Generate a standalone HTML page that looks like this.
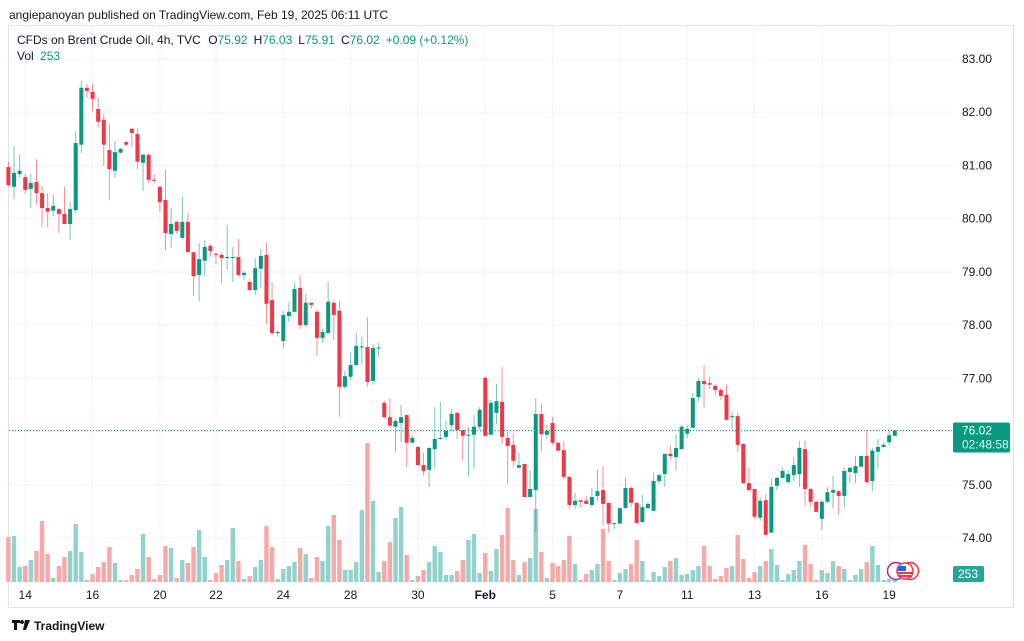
<!DOCTYPE html>
<html><head><meta charset="utf-8"><style>
body{margin:0;background:#fff;width:1024px;height:641px;overflow:hidden;font-family:"Liberation Sans",sans-serif}
svg{display:block}
text{font-family:"Liberation Sans",sans-serif}
</style></head><body>
<svg id="chart" width="1024" height="641" viewBox="0 0 1024 641" xmlns="http://www.w3.org/2000/svg">
<text x="9" y="19" font-size="12" fill="#131722">angiepanoyan published on TradingView.com, Feb 19, 2025 06:11 UTC</text>
<rect x="8.5" y="25.5" width="1005" height="582" fill="none" stroke="#e0e3eb"/>
<g id="grid"></g>
<g id="vol"></g>
<g id="candles"></g>
<g id="axes"></g>
<text x="17" y="44" font-size="12" fill="#131722">CFDs on Brent Crude Oil, 4h, TVC <tspan fill="#131722" dx="4">O</tspan><tspan fill="#089981">75.92</tspan><tspan dx="6">H</tspan><tspan fill="#089981">76.03</tspan><tspan dx="6">L</tspan><tspan fill="#089981">75.91</tspan><tspan dx="6">C</tspan><tspan fill="#089981">76.02</tspan><tspan dx="6" fill="#089981">+0.09 (+0.12%)</tspan></text>
<text x="17" y="60" font-size="12" fill="#131722">Vol <tspan fill="#089981" dx="3">253</tspan></text>
<g>
<circle cx="896" cy="571" r="8.5" fill="#fff" stroke="#9c27b0" stroke-width="1.5"/>
<circle cx="910" cy="571" r="8.5" fill="#fff" stroke="#f23645" stroke-width="1.5"/>
<circle cx="905" cy="571" r="8" fill="#fff" stroke="#f23645" stroke-width="1.5"/>
<rect x="898" y="566" width="8" height="5" fill="#2962ff"/>
<rect x="898" y="572" width="14" height="2" fill="#f23645"/>
<rect x="898" y="575" width="14" height="2" fill="#f23645"/>
</g>
<g>
<path d="M12 620h8v3h-3v7h-3v-7h-2z M22 624a2 2 0 1 1 0.01 0z M25 620h5l-4 10h-3z" fill="#131722"/>
<text x="34" y="630" font-size="12" font-weight="bold" fill="#131722">TradingView</text>
</g>
</svg>
<script>
const opens=[80.97,80.60,80.84,80.78,80.56,80.69,80.48,80.20,80.15,80.18,80.09,79.90,80.16,81.39,82.46,82.38,82.06,81.86,81.29,80.90,81.24,81.44,81.69,81.59,81.05,81.20,80.73,80.60,80.35,79.71,79.94,79.64,79.94,79.37,78.94,79.21,79.49,79.34,79.32,79.26,79.26,79.28,78.94,78.81,78.66,79.06,79.32,78.47,77.85,77.70,78.17,78.25,78.70,78.00,78.42,78.25,77.76,77.85,78.42,78.27,76.84,77.03,77.25,77.59,77.59,76.95,77.57,76.54,76.27,76.09,76.16,76.31,75.79,75.71,75.37,75.28,75.67,75.86,75.90,76.12,76.35,76.03,75.92,75.94,76.09,77.01,75.94,76.35,76.56,75.88,75.75,75.32,75.39,74.77,74.90,76.33,75.94,76.16,75.79,75.65,75.15,74.62,74.71,74.70,74.62,74.79,74.90,74.66,74.27,74.27,74.56,74.94,74.66,74.30,74.56,74.51,75.07,75.20,75.58,75.52,75.67,75.96,76.07,76.65,76.95,76.91,76.86,76.78,76.69,76.27,76.29,75.77,75.03,74.92,74.38,74.71,74.10,74.98,75.13,75.05,75.18,75.20,75.67,74.92,74.68,74.36,74.68,74.85,74.88,74.79,75.24,75.22,75.34,75.54,75.07,75.62,75.71,75.80,75.92];
const highs=[81.07,81.37,81.20,80.84,80.84,81.12,80.62,80.48,80.45,80.20,80.60,80.31,81.65,82.59,82.53,82.53,82.27,81.97,81.78,81.46,81.33,81.46,81.70,81.70,81.22,81.24,80.84,80.60,80.92,80.20,79.96,80.41,80.11,79.37,79.54,79.60,79.52,79.37,79.36,79.88,79.47,79.62,79.02,78.87,79.26,79.43,79.56,78.81,77.89,78.27,78.44,78.79,78.94,78.59,78.42,78.29,77.93,78.81,78.47,78.45,77.14,77.48,77.85,77.78,78.15,77.65,77.67,76.58,76.63,76.24,76.50,76.31,75.92,75.73,75.60,75.71,76.46,76.56,76.20,76.42,76.37,76.03,76.09,76.31,76.46,77.04,76.59,76.89,77.21,76.00,75.97,75.60,75.39,75.28,76.63,76.54,76.12,76.27,75.79,75.82,75.15,74.85,74.71,74.79,74.94,75.28,75.35,74.66,74.29,74.56,75.13,74.98,74.66,74.81,74.68,75.22,75.22,75.58,75.73,75.94,76.12,76.12,76.73,77.01,77.25,77.03,76.89,76.82,76.88,76.37,76.37,75.77,75.32,74.92,74.77,74.83,75.11,75.15,75.32,75.28,75.52,75.82,75.82,74.94,74.70,74.71,74.96,75.17,74.90,75.32,75.33,75.54,75.54,76.03,75.69,75.86,75.79,76.03,76.03];
const lows=[80.60,80.37,80.77,80.46,80.20,80.26,79.84,79.84,80.05,79.73,79.90,79.60,80.11,81.24,82.27,82.02,81.72,80.99,80.35,80.77,81.22,81.37,81.35,80.93,80.52,80.67,80.67,80.13,79.41,79.45,79.71,79.62,79.37,78.55,78.45,78.91,79.28,79.15,78.79,79.04,78.81,78.92,78.85,78.66,78.57,78.70,78.02,77.82,77.78,77.57,78.06,78.25,77.93,77.97,78.32,77.42,77.67,77.85,77.72,76.27,76.80,76.97,77.23,77.27,76.84,76.88,77.40,76.24,76.09,75.62,75.80,75.33,75.77,75.37,75.17,74.96,75.32,75.84,75.84,76.01,75.86,75.45,75.15,75.30,76.03,75.90,75.94,76.14,75.77,75.02,75.34,75.32,74.77,74.77,74.11,75.63,75.86,75.75,75.64,75.11,74.55,74.55,74.58,74.64,74.58,74.70,74.23,74.10,74.17,74.27,74.56,74.58,74.28,74.28,74.55,74.51,75.02,74.96,75.47,75.26,75.67,75.88,76.07,76.56,76.44,76.80,76.69,76.59,76.20,76.01,75.62,75.02,74.88,74.36,74.32,74.04,74.10,74.90,75.11,75.03,75.07,74.96,74.60,74.58,74.49,74.15,74.66,74.55,74.43,74.58,75.03,75.03,75.34,75.02,74.88,75.30,75.71,75.75,75.91];
const closes=[80.63,80.86,80.90,80.54,80.67,80.48,80.20,80.13,80.24,80.09,79.90,80.18,81.42,82.46,82.40,82.25,81.82,81.39,80.93,81.25,81.31,81.39,81.61,81.07,81.20,80.73,80.71,80.31,79.73,79.90,79.77,79.94,79.37,78.92,79.24,79.47,79.39,79.32,79.26,79.28,79.28,78.94,78.98,78.66,79.07,79.30,78.40,77.85,77.87,78.19,78.25,78.68,78.00,78.42,78.38,77.76,77.87,78.44,78.19,76.84,77.04,77.25,77.61,77.60,76.93,77.57,77.58,76.27,76.11,76.20,76.27,75.79,75.88,75.37,75.26,75.69,75.86,75.88,76.01,76.33,76.03,75.92,75.94,76.09,76.41,75.92,76.54,76.57,75.90,75.73,75.45,75.37,74.77,74.92,76.33,75.95,76.01,75.79,75.64,75.15,74.62,74.70,74.68,74.64,74.77,74.88,74.64,74.27,74.28,74.56,74.94,74.66,74.28,74.58,74.64,75.07,75.18,75.58,75.54,75.69,76.09,76.05,76.63,76.95,76.89,76.88,76.78,76.67,76.22,76.29,75.75,75.03,74.90,74.40,74.70,74.06,74.96,75.13,75.26,75.20,75.37,75.69,74.92,74.68,74.49,74.68,74.86,74.90,74.79,75.26,75.32,75.35,75.54,75.05,75.64,75.71,75.75,75.93,76.02];
const volumes=[45,46,15,16,22,31,61,28,4,16,25,31,58,30,2,8,15,20,35,19,2,2,7,13,48,25,3,7,36,34,4,22,19,35,52,25,2,9,17,22,54,21,3,6,15,22,56,35,3,13,16,20,34,28,4,25,21,56,67,42,12,12,20,72,139,81,10,21,40,64,75,27,2,6,12,20,36,30,7,7,11,22,42,48,9,29,11,33,47,74,22,7,20,24,73,30,4,19,16,22,46,18,2,8,12,18,53,21,2,9,13,18,42,21,2,10,6,15,21,24,7,8,12,16,36,16,3,6,14,16,47,23,4,10,16,21,33,17,2,8,12,21,37,18,2,12,9,21,16,13,2,7,13,20,36,17,2,3,2];
const priceTicks=[83,82,81,80,79,78,77,76,75,74];
const dateLabels=["14","16","20","22","24","28","30","Feb","5","7","11","13","16","19"];
const dateIdx=[3,15,27,37,49,61,73,85,97,109,121,133,145,157];
const lastPrice=76.02, lastVol=253;

const NS="http://www.w3.org/2000/svg";
const pY=p=>59+(83-p)*53.22;
const cX=i=>8.4+i*5.61;
const vY=v=>582-v*1.0;
const GREEN="#089981",RED="#f23645",VG="#92d2cc",VR="#f7a9a7";
function mk(tag,attrs,parent){const e=document.createElementNS(NS,tag);for(const k in attrs)e.setAttribute(k,attrs[k]);parent.appendChild(e);return e;}
const grid=document.getElementById('grid'),axes=document.getElementById('axes');
priceTicks.forEach(p=>{
  const l=mk('line',{x1:9,x2:953,y1:pY(p),y2:pY(p),stroke:'#f0f3fa','stroke-width':1},grid);
  
  
  const t=mk('text',{x:962,y:pY(p)+4,'font-size':12,fill:'#131722'},axes);
  t.textContent=p.toFixed(2);
  
  
});
dateLabels.forEach((d,k)=>{
  const x=cX(dateIdx[k]);
  const l=mk('line',{x1:x,x2:x,y1:26,y2:583,stroke:'#f0f3fa','stroke-width':1},grid);
  
  
  const t=mk('text',{x:x,y:599,'font-size':12,fill:'#131722','text-anchor':'middle','font-weight':d==='Feb'?'bold':'normal'},axes);
  t.textContent=d;
  
  
});
const vg=document.getElementById('vol'),cg=document.getElementById('candles');
closes.forEach((c,i)=>{
  const o=opens[i],up=c>=o,x=cX(i);
  const vb=mk('rect',{x:x-2.2,y:vY(volumes[i]),width:4.4,height:582-vY(volumes[i]),fill:up?VG:VR},vg);
  
  
  const col=up?GREEN:RED;
  const w=mk('line',{x1:x,x2:x,y1:pY(highs[i]),y2:pY(lows[i]),stroke:col,'stroke-width':1,opacity:0.55},cg);
  
  
  const top=pY(Math.max(o,c)),bh=Math.max(1,pY(Math.min(o,c))-top);
  const b=mk('rect',{x:x-2,y:top,width:4,height:bh,fill:col},cg);
  
  
});
const pl=mk('line',{x1:9,x2:953,y1:pY(lastPrice),y2:pY(lastPrice),stroke:GREEN,'stroke-width':1,'stroke-dasharray':'1 2'},axes);


const pb=mk('rect',{x:953,y:pY(lastPrice)-8,width:57,height:30,rx:2,fill:GREEN},axes);


const pt=mk('text',{x:962,y:pY(lastPrice)+4,'font-size':12,fill:'#fff'},axes);
pt.textContent=lastPrice.toFixed(2);


const ct=mk('text',{x:962,y:pY(lastPrice)+18,'font-size':12,fill:'#e0f2ef'},axes);
ct.textContent="02:48:58";


const vb2=mk('rect',{x:953,y:566,width:31,height:16,rx:2,fill:'#26a69a'},axes);


const vt=mk('text',{x:958,y:578,'font-size':12,fill:'#fff'},axes);
vt.textContent=String(lastVol);


</script>
</body></html>
